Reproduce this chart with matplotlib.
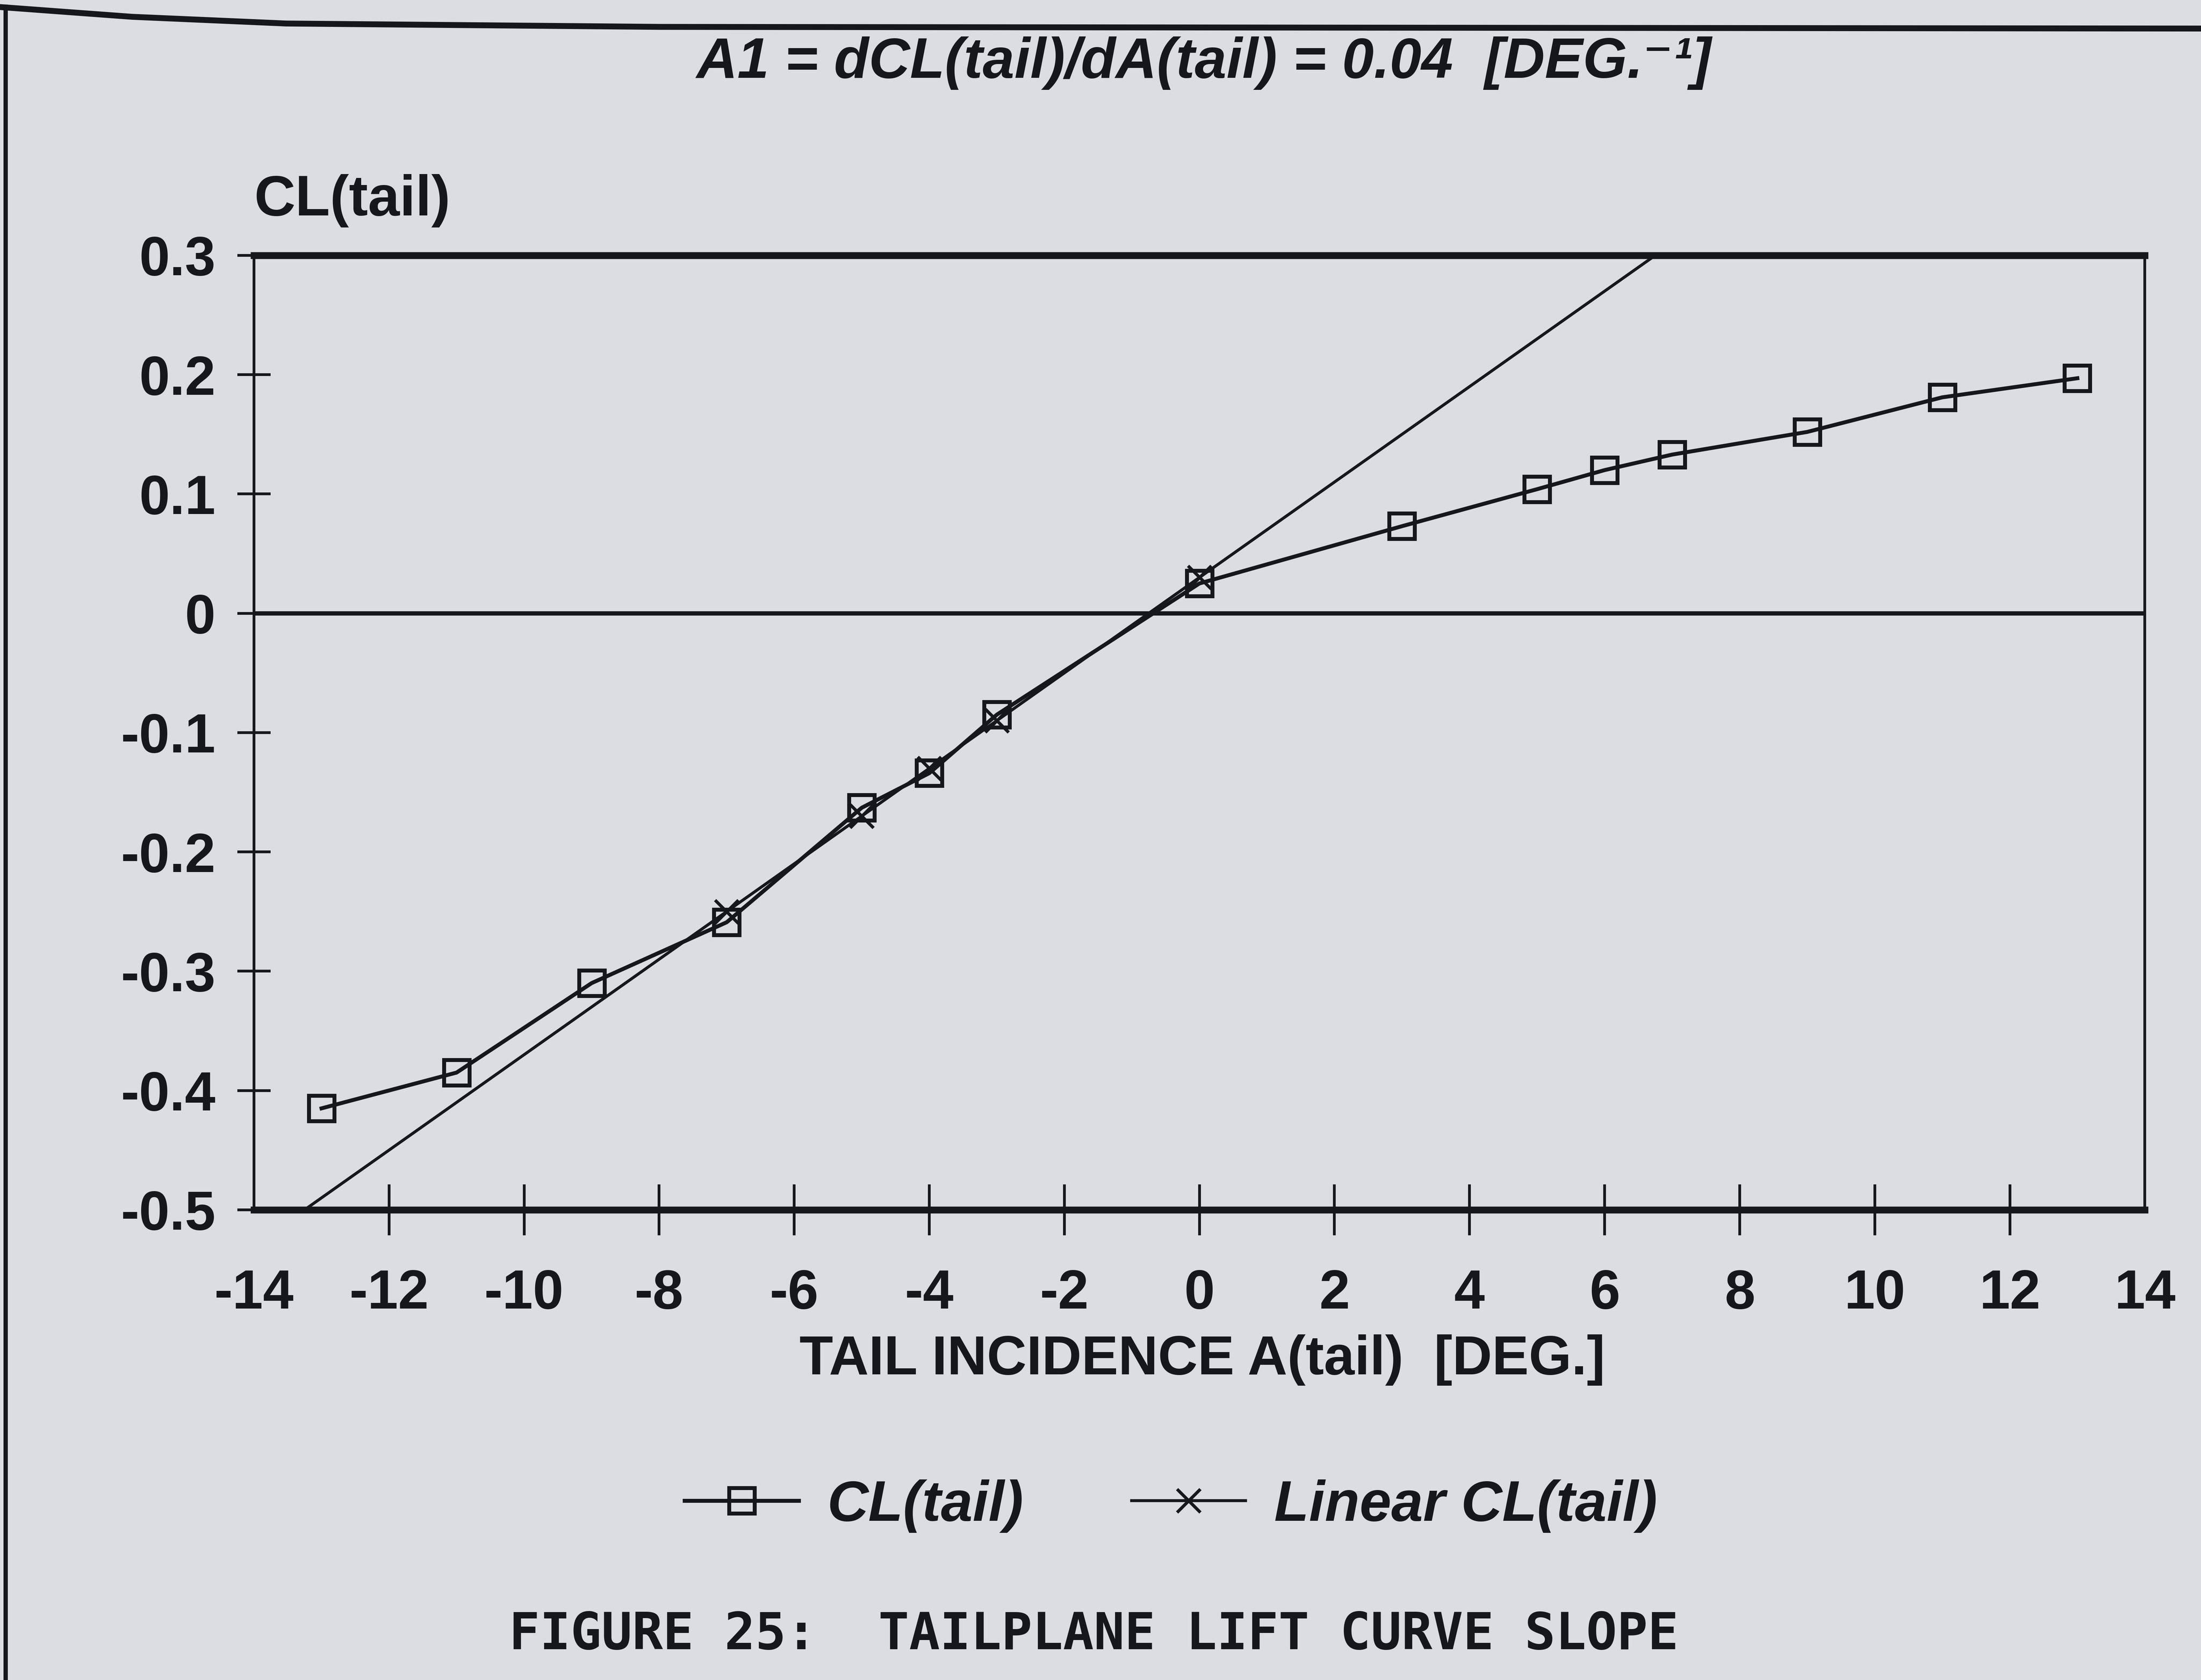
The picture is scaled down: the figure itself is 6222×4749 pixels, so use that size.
import matplotlib
matplotlib.use("Agg")

import matplotlib.pyplot as plt
from matplotlib.lines import Line2D

# ── Data ─────────────────────────────────────────────────────────────
tail_incidence = [-13, -11, -9, -7, -5, -4, -3, 0, 3, 5, 6, 7, 9, 11, 13]
cl_tail = [-0.415, -0.385, -0.310, -0.259, -0.163, -0.134, -0.085, 0.025,
           0.073, 0.104, 0.120, 0.133, 0.152, 0.181, 0.197]

# linear fit: slope A1 per degree through CL0 at zero incidence
A1 = 0.04
CL0 = 0.030
linear_incidence = [-15, -7, -5, -4, -3, 0, 8]
linear_marked = [1, 2, 3, 4, 5]   # points that carry a cross marker

x_ticks = list(range(-14, 15, 2))
y_ticks = [0.3, 0.2, 0.1, 0.0, -0.1, -0.2, -0.3, -0.4, -0.5]
y_tick_labels = ["0.3", "0.2", "0.1", "0", "-0.1", "-0.2", "-0.3", "-0.4", "-0.5"]

PAPER = "#dcdde2"
INK = "#16171d"
SANS = ["Liberation Sans", "DejaVu Sans"]
MONO = ["DejaVu Sans Mono"]

fig = plt.figure(figsize=(15.555, 11.8725), dpi=400)
fig.patch.set_facecolor(PAPER)

# page frame round the figure (left and top edges)
fig.add_artist(Line2D([0.0026, 0.0026], [0.0, 0.996], transform=fig.transFigure,
                      color=INK, lw=2.2))
fig.add_artist(Line2D([0.0, 0.06, 0.13, 0.30, 1.0],
                      [0.9958, 0.990, 0.986, 0.984, 0.983],
                      transform=fig.transFigure, color=INK, lw=3.0))

ax = fig.add_axes([0.1154, 0.2799, 0.8591, 0.5681])
ax.set_facecolor("none")

# ── Series ───────────────────────────────────────────────────────────
ax.axhline(0, color=INK, lw=2.2, zorder=2)

ax.plot(tail_incidence, cl_tail, color=INK, lw=2.0,
        marker="s", ms=13, mfc="none", mec=INK, mew=2.0, zorder=4)

linear_cl = [CL0 + A1 * a for a in linear_incidence]
ax.plot(linear_incidence, linear_cl, color=INK, lw=1.5,
        marker="x", ms=12, mew=1.6, markevery=linear_marked, zorder=3)

ax.set_xlim(-14, 14)
ax.set_ylim(-0.5, 0.3)

# ── Axes styling ─────────────────────────────────────────────────────
for side in ("top", "bottom"):
    ax.spines[side].set_linewidth(3.5)
for side in ("left", "right"):
    ax.spines[side].set_linewidth(1.4)
for sp in ax.spines.values():
    sp.set_color(INK)

ax.set_xticks(x_ticks)
ax.set_xticklabels([str(t) for t in x_ticks])
ax.set_yticks(y_ticks)
ax.set_yticklabels(y_tick_labels)
ax.tick_params(axis="x", direction="inout", length=26, width=1.4, pad=17,
               colors=INK, labelsize=28)
ax.tick_params(axis="y", direction="inout", length=17, width=1.4, pad=11,
               colors=INK, labelsize=28)
for lab in ax.get_xticklabels() + ax.get_yticklabels():
    lab.set_fontweight("bold")
    lab.set_family(SANS)

xt = ax.xaxis.get_major_ticks()
xt[0].tick1line.set_visible(False)
xt[-1].tick1line.set_visible(False)

# ── Labels ───────────────────────────────────────────────────────────
fig.text(0.5469, 0.9624, "A1 = dCL(tail)/dA(tail) = 0.04  [DEG.\u207b\u00b9]",
         ha="center", va="center", fontsize=29, fontweight="bold",
         fontstyle="italic", family=SANS, color=INK)
fig.text(0.1154, 0.8805, "CL(tail)", ha="left", va="center",
         fontsize=29, fontweight="bold", family=SANS, color=INK)
fig.text(0.5462, 0.1905, "TAIL INCIDENCE A(tail)  [DEG.]", ha="center",
         va="center", fontsize=28, fontweight="bold", family=SANS, color=INK)

handles = [
    Line2D([], [], color=INK, lw=2.0, marker="s", ms=13, mfc="none",
           mec=INK, mew=2.0, label="CL(tail)"),
    Line2D([], [], color=INK, lw=1.5, marker="x", ms=12, mew=1.6,
           label="Linear CL(tail)"),
]
fig.legend(handles=handles, loc="center", bbox_to_anchor=(0.532, 0.1036),
           ncol=2, frameon=False, handlelength=2.0, handletextpad=0.5,
           columnspacing=1.9,
           prop=dict(family=SANS, size=29, weight="bold", style="italic"),
           labelcolor=INK)

fig.text(0.497, 0.0267, "FIGURE 25:  TAILPLANE LIFT CURVE SLOPE",
         ha="center", va="center", fontsize=26, fontweight="bold",
         family=MONO, color=INK)

fig.savefig("out.png", dpi=400, facecolor=fig.get_facecolor())
